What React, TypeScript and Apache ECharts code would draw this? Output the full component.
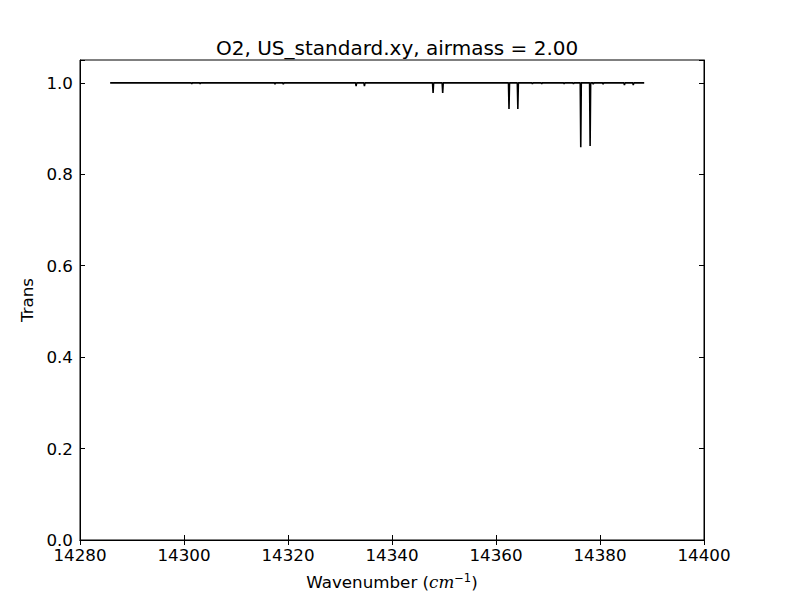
import React, { useEffect, useRef } from "react";
import * as echarts from "echarts";

const titleText = "O2, US_standard.xy, airmass = 2.00";
const xRange = [14285.8, 14388.5];
const lineCenters = [
  14301.5, 14303.1, 14317.5, 14319.1, 14333.1, 14334.7, 14347.9, 14349.75,
  14354.7, 14356.3, 14362.5, 14364.2, 14367.0, 14368.8, 14373.1, 14374.9,
  14376.3, 14378.1, 14378.7, 14380.6, 14384.7, 14386.4,
];
const lineMinima = [
  0.998, 0.998, 0.997, 0.997, 0.993, 0.993, 0.978, 0.978,
  0.999, 0.999, 0.943, 0.943, 0.998, 0.998, 0.998, 0.998,
  0.859, 0.862, 0.997, 0.997, 0.995, 0.995,
];
const continuum = 1.0;
const halfWidth = 0.1;

function buildData(): number[][] {
  const d: number[][] = [[xRange[0], continuum]];
  lineCenters.forEach((c, i) => {
    d.push([c - halfWidth, continuum]);
    d.push([c, lineMinima[i]]);
    d.push([c + halfWidth, continuum]);
  });
  d.push([xRange[1], continuum]);
  return d;
}

const FONT = "DejaVu Sans";

export default function App() {
  const ref = useRef<HTMLDivElement>(null);
  useEffect(() => {
    if (!ref.current) return;
    const chart = echarts.init(ref.current, null, { renderer: "svg" });
    const tickStyle = { show: true, inside: true, length: 5, lineStyle: { color: "#000", width: 1 } };
    const yFmt = (v: number) =>
      Math.abs(v * 5 - Math.round(v * 5)) < 1e-6 ? v.toFixed(1) : "";
    const xFmt = (v: number) => String(Math.round(v));
    chart.setOption({
      animation: false,
      backgroundColor: "#fff",
      title: {
        text: titleText,
        left: 211,
        top: 33,
        textStyle: { fontFamily: FONT, fontSize: 20, fontWeight: "normal", color: "#000" },
      },
      grid: {
        left: 80,
        right: 96,
        top: 60,
        bottom: 60,
        show: true,
        borderColor: "#000",
        borderWidth: 1,
        backgroundColor: "transparent",
      },
      xAxis: [
        {
          type: "value",
          min: 14280,
          max: 14400,
          interval: 20,
          position: "bottom",
          axisLine: { show: true, lineStyle: { color: "#000" } },
          axisTick: tickStyle,
          splitLine: { show: false },
          axisLabel: { color: "#000", fontFamily: FONT, fontSize: 16.7, margin: 6, formatter: xFmt },
          name: "{n|Wavenumber (}{i|cm}{s|−1}{n|)}",
          nameLocation: "middle",
          nameGap: 32,
          nameTextStyle: {
            rich: {
              n: { fontFamily: FONT, fontSize: 16.7, color: "#000" },
              i: { fontFamily: "DejaVu Serif", fontStyle: "italic", fontSize: 16.7, color: "#000" },
              s: { fontFamily: FONT, fontSize: 11.5, color: "#000", verticalAlign: "top", padding: [0, 0, 8, 0] },
            },
          },
        },
        {
          type: "value",
          min: 14280,
          max: 14400,
          interval: 20,
          position: "top",
          axisLine: { show: true, lineStyle: { color: "#000" } },
          axisTick: tickStyle,
          splitLine: { show: false },
          axisLabel: { show: false },
        },
      ],
      yAxis: [
        {
          type: "value",
          min: 0,
          max: 1.05,
          interval: 0.2,
          position: "left",
          axisLine: { show: true, lineStyle: { color: "#000" } },
          axisTick: tickStyle,
          splitLine: { show: false },
          axisLabel: { color: "#000", fontFamily: FONT, fontSize: 16.7, margin: 7, formatter: yFmt },
          name: "Trans",
          nameLocation: "middle",
          nameGap: 38,
          nameTextStyle: { fontFamily: FONT, fontSize: 16.7, color: "#000" },
        },
        {
          type: "value",
          min: 0,
          max: 1.05,
          interval: 0.2,
          position: "right",
          axisLine: { show: true, lineStyle: { color: "#000" } },
          axisTick: tickStyle,
          splitLine: { show: false },
          axisLabel: { show: false },
        },
      ],
      series: [
        {
          type: "line",
          xAxisIndex: 0,
          yAxisIndex: 0,
          data: buildData(),
          showSymbol: false,
          symbol: "none",
          lineStyle: { color: "#000", width: 1.6 },
          silent: true,
        },
      ],
    });
    return () => chart.dispose();
  }, []);
  return <div ref={ref} style={{ width: 800, height: 600, position: "absolute", left: 0, top: 0 }} />;
}
